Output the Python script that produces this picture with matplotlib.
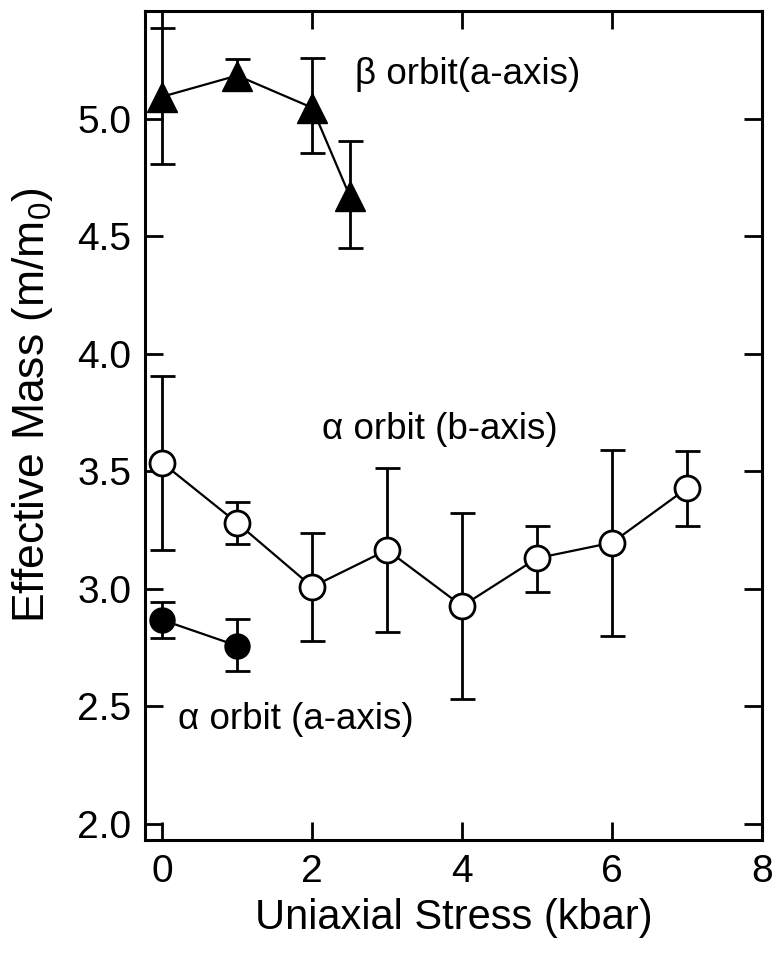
import matplotlib
matplotlib.use('Agg')
import matplotlib.pyplot as plt

plt.rcParams['font.family'] = ['Liberation Sans', 'DejaVu Sans']

# beta orbit, a-axis stress (filled triangles)
beta_x = [0, 1, 2, 2.5]
beta_y = [5.095, 5.185, 5.048, 4.673]
beta_lo = [4.81, 5.122, 4.855, 4.45]
beta_hi = [5.388, 5.256, 5.26, 4.905]

# alpha orbit, b-axis stress (open circles)
ab_x = [0, 1, 2, 3, 4, 5, 6, 7]
ab_y = [3.536, 3.28, 3.008, 3.165, 2.926, 3.13, 3.196, 3.428]
ab_lo = [3.165, 3.19, 2.777, 2.816, 2.53, 2.986, 2.798, 3.267]
ab_hi = [3.907, 3.37, 3.236, 3.516, 3.324, 3.267, 3.592, 3.587]

# alpha orbit, a-axis stress (filled circles)
aa_x = [0, 1]
aa_y = [2.867, 2.757]
aa_lo = [2.79, 2.65]
aa_hi = [2.945, 2.871]


def err(y, lo, hi):
    return [[a - b for a, b in zip(y, lo)], [b - a for a, b in zip(y, hi)]]


fig = plt.figure(figsize=(7.77, 9.61), dpi=100)
ax = fig.add_axes([0.1866, 0.1259, 0.7941, 0.8627])

common = dict(color='black', ecolor='black', elinewidth=2, capsize=9, capthick=2,
              linewidth=1.6)
ax.errorbar(beta_x, beta_y, yerr=err(beta_y, beta_lo, beta_hi), marker='^', mfc='black',
            markersize=21, **common)
ax.errorbar(ab_x, ab_y, yerr=err(ab_y, ab_lo, ab_hi), marker='o', mfc='white',
            mec='black', mew=2, markersize=18, **common)
ax.errorbar(aa_x, aa_y, yerr=err(aa_y, aa_lo, aa_hi), marker='o', mfc='black',
            markersize=18, **common)

ax.text(2.57, 5.19, '\u03b2 orbit(a-axis)', fontsize=26.5, va='center', ha='left')
ax.text(2.13, 3.676, '\u03b1 orbit (b-axis)', fontsize=26.5, va='center', ha='left')
ax.text(0.21, 2.445, '\u03b1 orbit (a-axis)', fontsize=26.5, va='center', ha='left')

ax.set_xlim(-0.23, 8)
ax.set_ylim(1.93, 5.46)
ax.set_xticks([0, 2, 4, 6, 8])
ax.set_yticks([2.0, 2.5, 3.0, 3.5, 4.0, 4.5, 5.0])
ax.set_yticklabels(['2.0', '2.5', '3.0', '3.5', '4.0', '4.5', '5.0'])
ax.tick_params(direction='in', length=13, width=2, labelsize=28, top=True, right=True, pad=10)
for s in ax.spines.values():
    s.set_linewidth(2.2)

ax.set_xlabel('Uniaxial Stress (kbar)', fontsize=30, labelpad=6)
ax.set_ylabel('Effective Mass (m/m$_\\mathregular{0}$)', fontsize=32)
ax.yaxis.set_label_coords(-0.146, 0.525)

fig.savefig('out.png', dpi=100)
